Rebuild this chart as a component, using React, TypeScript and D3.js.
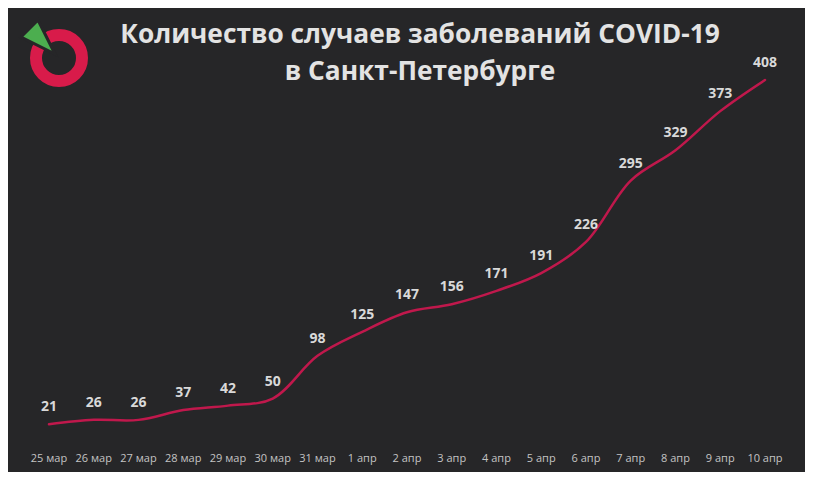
import * as d3 from 'd3';

const dates = ['25 мар', '26 мар', '27 мар', '28 мар', '29 мар', '30 мар', '31 мар', '1 апр', '2 апр', '3 апр', '4 апр', '5 апр', '6 апр', '7 апр', '8 апр', '9 апр', '10 апр'];
const cases = [21, 26, 26, 37, 42, 50, 98, 125, 147, 156, 171, 191, 226, 295, 329, 373, 408];
const titleLines = ['Количество случаев заболеваний COVID-19', 'в Санкт-Петербурге'];

const W = 813;
const H = 480;

export default function App() {
  const x = d3.scalePoint<string>().domain(dates).range([49, 765]);
  const y = d3.scaleLinear().domain([0, 408]).range([443, 80]);

  const line = d3.line<number>()
    .x((_, i) => x(dates[i]) as number)
    .y(d => y(d))
    .curve(d3.curveCatmullRom.alpha(0.5));

  return (
    <svg width={W} height={H} style={{ display: 'block', margin: '-8px' }}>
      <rect x={0} y={0} width={W} height={H} fill="#262628" />
      <rect x={0.5} y={0.5} width={W - 1} height={H - 1} fill="none" stroke="#8a8a8a" />

      {/* logo */}
      <g>
        <circle cx={59} cy={58} r={23} fill="none" stroke="#d81b4a" strokeWidth={12} />
        <polygon points="21,37 38,20 55,54" fill="#4cae4f" stroke="#262628" strokeWidth={3} strokeLinejoin="miter" />
      </g>

      {/* title */}
      {titleLines.map((t, i) => (
        <text key={i} x={420} y={43 + i * 37} textAnchor="middle" fill="#e3e3e3"
          fontFamily="'Open Sans', sans-serif" fontWeight={700} fontSize={26.3}>{t}</text>
      ))}

      <path d={line(cases) ?? ''} fill="none" stroke="#c0184c" strokeWidth={2.5} strokeLinecap="round" />

      {cases.map((v, i) => (
        <text key={i} x={x(dates[i])} y={y(v) - 13} textAnchor="middle" fill="#d9d9d9"
          fontFamily="'Open Sans', sans-serif" fontWeight={700} fontSize={14}>{v}</text>
      ))}

      {dates.map(d => (
        <text key={d} x={x(d)} y={462} textAnchor="middle" fill="#c4c4c4"
          fontFamily="'Open Sans', sans-serif" fontSize={11}>{d}</text>
      ))}
    </svg>
  );
}
